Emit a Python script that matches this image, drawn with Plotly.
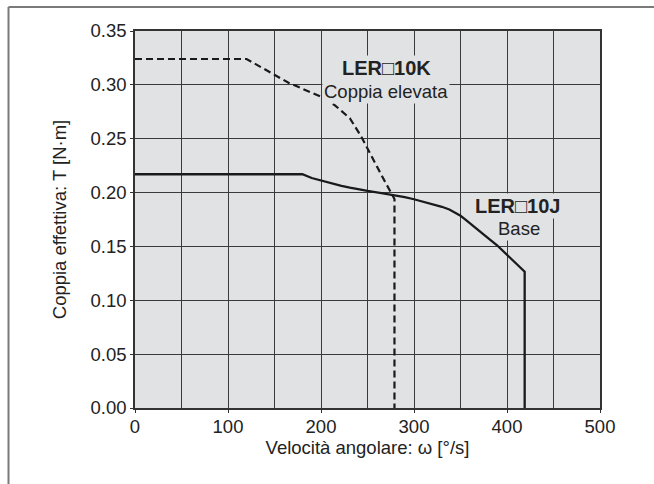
import plotly.graph_objects as go

# Data
speed_10k = [0, 120, 165, 200, 215, 231, 243, 255, 267, 279, 279]
torque_10k = [0.324, 0.324, 0.302, 0.289, 0.281, 0.269, 0.2525, 0.232, 0.213, 0.194, 0.0]

speed_10j = [0, 180, 190, 200, 211, 222, 231, 241, 250, 265, 278, 290, 300, 315, 330,
             338, 345, 350, 355, 360, 371, 380, 389, 400, 410, 419, 419]
torque_10j = [0.217, 0.217, 0.2135, 0.211, 0.2085, 0.2062, 0.2045, 0.2028, 0.2015, 0.1995,
              0.1977, 0.1958, 0.1938, 0.1905, 0.1868, 0.1843, 0.1813, 0.1785, 0.1752, 0.1715,
              0.164, 0.1575, 0.1513, 0.1425, 0.1345, 0.1266, 0.0]

x_ticks = [0, 100, 200, 300, 400, 500]
y_ticks = [0.00, 0.05, 0.10, 0.15, 0.20, 0.25, 0.30, 0.35]
y_tick_labels = ["0.00", "0.05", "0.10", "0.15", "0.20", "0.25", "0.30", "0.35"]

label_10k = "LER\u25a110K"
sub_10k = "Coppia elevata"
label_10j = "LER\u25a110J"
sub_10j = "Base"
x_title = "Velocità angolare: \u03c9 [°/s]"
y_title = "Coppia effettiva: T [N·m]"

FONT = "Liberation Sans, Arial, sans-serif"
BG = "#e1e2e4"
GRID = "#3a3a3a"
TXT = "#222222"

fig = go.Figure()
fig.add_trace(go.Scatter(x=speed_10k, y=torque_10k, mode="lines",
                         line=dict(color="#1a1a1a", width=2.2, dash="7px,4px"),
                         showlegend=False, hoverinfo="skip"))
fig.add_trace(go.Scatter(x=speed_10j, y=torque_10j, mode="lines",
                         line=dict(color="#1a1a1a", width=2.3),
                         showlegend=False, hoverinfo="skip"))

def ann(x, y, text, size, bold=False):
    fig.add_annotation(x=x, y=y, xref="x", yref="y", showarrow=False,
                       text=f"<b>{text}</b>" if bold else text,
                       font=dict(family=FONT, size=size, color=TXT),
                       bgcolor=BG, borderpad=1,
                       xanchor="center", yanchor="middle")

ann(270.4, 0.3154, label_10k, 20, bold=True)
ann(270.0, 0.2937, sub_10k, 18.5)
ann(411.8, 0.1876, label_10j, 20, bold=True)
ann(412.4, 0.1662, sub_10j, 18.5)

L, R, T, B = 135, 600, 31, 408
W, H = 654, 484
# outer frame lines (top and left)
def px(xp):
    return (xp - L) / (R - L)
def py(yp):
    return (B - yp) / (B - T)

fig.add_shape(type="line", xref="paper", yref="paper",
              x0=px(8.5), x1=px(654), y0=py(7), y1=py(7),
              line=dict(color="#7a7a7a", width=2))
fig.add_shape(type="line", xref="paper", yref="paper",
              x0=px(8.5), x1=px(8.5), y0=py(7), y1=py(490),
              line=dict(color="#7a7a7a", width=2))

fig.update_layout(
    width=W, height=H,
    margin=dict(l=L, r=W - R, t=T, b=H - B, pad=0),
    paper_bgcolor="white", plot_bgcolor=BG,
    font=dict(family=FONT, size=18.5, color=TXT),
)
fig.update_xaxes(range=[0, 500], tickvals=x_ticks,
                 showgrid=True, gridcolor=GRID, gridwidth=1,
                 zeroline=False,
                 showline=True, linecolor="#333333", linewidth=1.5, mirror=True,
                 ticks="outside", ticklen=3, tickcolor="#333333",
                 ticklabelstandoff=-2,
                 tickfont=dict(size=18.5, color=TXT),
                 title=dict(text=x_title, font=dict(size=18.5, color=TXT), standoff=2))
# vertical gridlines every 50 via minor grid
fig.update_xaxes(minor=dict(dtick=50, tick0=0, showgrid=True, gridcolor=GRID, gridwidth=1))
fig.update_yaxes(range=[0, 0.35], tickvals=y_ticks, ticktext=y_tick_labels,
                 showgrid=True, gridcolor=GRID, gridwidth=1, zeroline=False,
                 showline=True, linecolor="#333333", linewidth=1.5, mirror=True,
                 ticks="outside", ticklen=3, tickcolor="#333333",
                 tickfont=dict(size=18.5, color=TXT),
                 title=dict(text=y_title, font=dict(size=18.5, color=TXT), standoff=19))

fig.write_html("out.html")
